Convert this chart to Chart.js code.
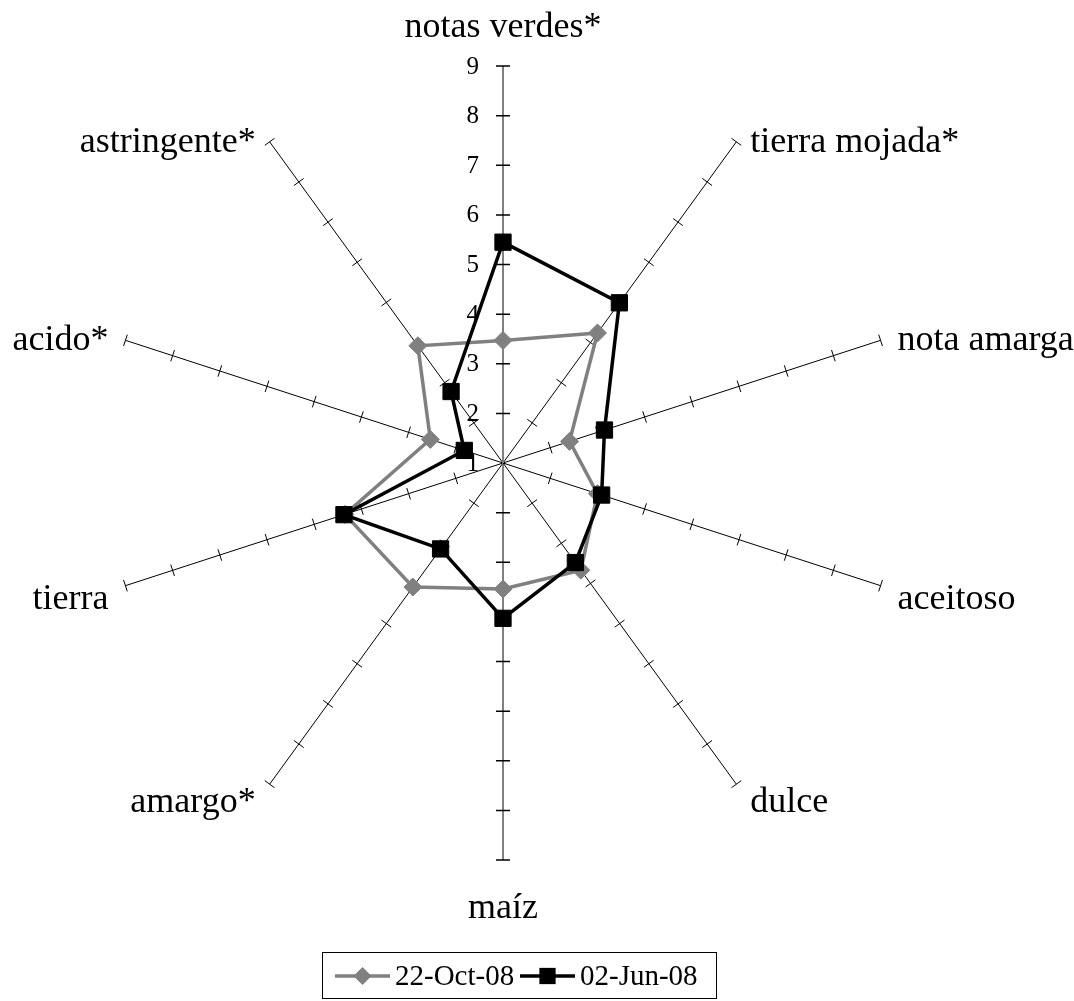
<!DOCTYPE html>
<html>
<head>
<meta charset="utf-8">
<title>Perfil sensorial</title>
<script src="https://cdn.jsdelivr.net/npm/chart.js@4.4.0/dist/chart.umd.min.js"></script>
<style>
  body { margin: 0; background: #fff; }
  #caixa { width: 1074px; height: 1001px; }
</style>
</head>
<body>
<div id="caixa"><canvas id="chart_radar"></canvas></div>
<script>
// atributos, sentido horario empezando arriba
var atributos = ['notas verdes*', 'tierra mojada*', 'nota amarga', 'aceitoso', 'dulce', 'maíz', 'amargo*', 'tierra', 'acido*', 'astringente*'];

// valores
var valores_oct08 = [3.47, 4.24, 2.41, 3.0, 3.67, 3.54, 4.09, 4.35, 2.54, 3.92];
var valores_jun08 = [5.45, 4.99, 3.15, 3.09, 3.48, 4.13, 3.14, 4.37, 1.82, 2.78];

var series = ['22-Oct-08', '02-Jun-08'];
var marcas_escala = [1, 2, 3, 4, 5, 6, 7, 8, 9];

var fonte = "'Liberation Serif', 'Times New Roman', serif";

// marcas, numeros y nombres de los ejes
const ejesPlugin = {
  id: 'ejes',
  beforeDatasetsDraw(chart) {
    const ctx = chart.ctx;
    const r = chart.scales.r;
    ctx.save();

    // marquitas perpendiculares en cada eje
    ctx.strokeStyle = '#000';
    for (let i = 0; i < atributos.length; i++) {
      const ang = r.getIndexAngle(i) - Math.PI / 2;
      const nx = -Math.sin(ang), ny = Math.cos(ang);
      ctx.lineWidth = (i == 0 || i == 5) ? 1.5 : 1;
      const largo = (i == 0 || i == 5) ? 7 : 6;
      ctx.beginPath();
      marcas_escala.forEach(function (v) {
        if (v <= r.min) return;
        const p = r.getPointPositionForValue(i, v);
        ctx.moveTo(p.x - nx * largo, p.y - ny * largo);
        ctx.lineTo(p.x + nx * largo, p.y + ny * largo);
      });
      ctx.stroke();
    }

    // numeros del eje vertical
    ctx.fillStyle = '#000';
    ctx.font = '25px ' + fonte;
    ctx.textAlign = 'right';
    ctx.textBaseline = 'middle';
    marcas_escala.forEach(function (v) {
      const p = r.getPointPositionForValue(0, v);
      ctx.fillText(String(v), p.x - 24, p.y + 1);
    });

    // nombres de los atributos
    ctx.font = '36px ' + fonte;
    ctx.textBaseline = 'alphabetic';
    for (let i = 0; i < atributos.length; i++) {
      const p = r.getPointPositionForValue(i, r.max);
      const dx = p.x - r.xCenter;
      const dy = p.y - r.yCenter;
      let x = p.x, y = p.y;
      if (Math.abs(dx) < 1) {
        ctx.textAlign = 'center';
        y = dy < 0 ? p.y - 29 : p.y + 58;
      } else {
        ctx.textAlign = dx > 0 ? 'left' : 'right';
        const sep = Math.abs(dy) > 200 ? 14 : 17;
        x = dx > 0 ? p.x + sep : p.x - sep;
        if (dy < 0) y = p.y + 10;
        else y = dy > 200 ? p.y + 28 : p.y + 23;
      }
      ctx.fillText(atributos[i], x, y);
    }
    ctx.restore();
  },
  afterDraw(chart) {
    // leyenda con recuadro
    const ctx = chart.ctx;
    const ds = chart.data.datasets;
    ctx.save();
    ctx.strokeStyle = '#000';
    ctx.lineWidth = 1;
    ctx.strokeRect(322.5, 952.5, 394, 46);
    ctx.font = '29px ' + fonte;
    ctx.textAlign = 'left';
    ctx.textBaseline = 'middle';
    const yl = 976;
    const inicios = [335, 520];
    for (let k = 0; k < ds.length; k++) {
      const x0 = inicios[k];
      ctx.strokeStyle = ds[k].borderColor;
      ctx.fillStyle = ds[k].borderColor;
      ctx.lineWidth = ds[k].borderWidth;
      ctx.beginPath();
      ctx.moveTo(x0, yl);
      ctx.lineTo(x0 + 55, yl);
      ctx.stroke();
      const cx = x0 + 27.5;
      ctx.beginPath();
      if (ds[k].pointStyle == 'rectRot') {
        const s = ds[k].pointRadius;
        ctx.moveTo(cx, yl - s);
        ctx.lineTo(cx + s, yl);
        ctx.lineTo(cx, yl + s);
        ctx.lineTo(cx - s, yl);
        ctx.closePath();
      } else {
        const s = ds[k].pointRadius * Math.SQRT1_2;
        ctx.rect(cx - s, yl - s, 2 * s, 2 * s);
      }
      ctx.fill();
      ctx.fillStyle = '#000';
      ctx.fillText(ds[k].label, x0 + 60, yl + 1);
    }
    ctx.restore();
  }
};

let dados = {
  labels: atributos,
  datasets: [{
    label: series[0],
    data: valores_oct08,
    borderColor: '#808080',
    backgroundColor: '#808080',
    borderWidth: 3.5,
    fill: false,
    tension: 0,
    pointStyle: 'rectRot',
    pointRadius: 9,
    pointBackgroundColor: '#808080',
    pointBorderColor: '#808080',
    pointBorderWidth: 1,
    order: 2
  }, {
    label: series[1],
    data: valores_jun08,
    borderColor: '#000000',
    backgroundColor: '#000000',
    borderWidth: 3.5,
    fill: false,
    tension: 0,
    pointStyle: 'rect',
    pointRadius: 11.5,
    pointBackgroundColor: '#000000',
    pointBorderColor: '#000000',
    pointBorderWidth: 1,
    order: 1
  }]
};

const config = {
  type: 'radar',
  data: dados,
  options: {
    responsive: true,
    maintainAspectRatio: false,
    devicePixelRatio: 1,
    animation: false,
    layout: { padding: { left: 106, right: 173, top: 66, bottom: 140 } },
    plugins: {
      legend: { display: false },
      tooltip: { enabled: false }
    },
    scales: {
      r: {
        min: 1,
        max: 9,
        ticks: { display: false, stepSize: 1 },
        grid: { display: false },
        pointLabels: { display: false },
        angleLines: {
          display: true,
          color: function (c) { return (c.index == 0 || c.index == 5) ? '#808080' : '#000000'; },
          lineWidth: function (c) { return (c.index == 0 || c.index == 5) ? 2 : 1; }
        }
      }
    }
  },
  plugins: [ejesPlugin]
};

let chart_radar = new Chart(document.getElementById('chart_radar'), config);
</script>
</body>
</html>
